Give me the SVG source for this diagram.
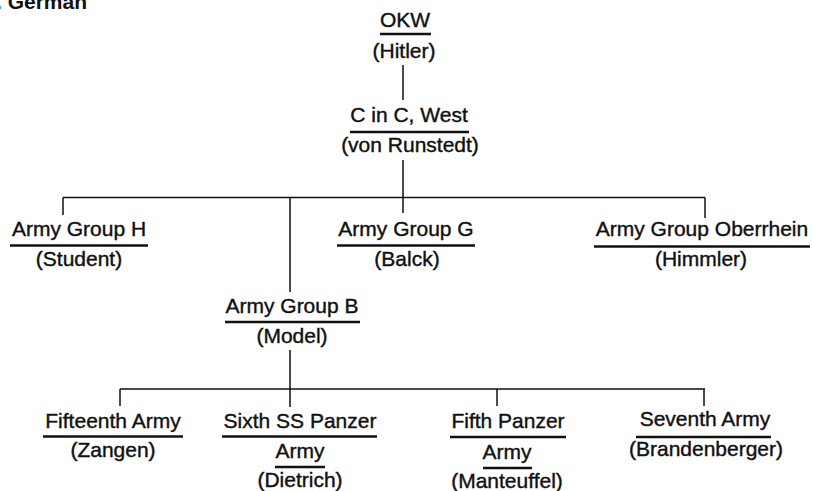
<svg xmlns="http://www.w3.org/2000/svg" width="813" height="491" viewBox="0 0 813 491">
<style>
text{font-family:"Liberation Sans",Arial,sans-serif;font-size:21px;fill:#111;stroke:#111;stroke-width:0.4;text-anchor:middle}
.t{font-weight:bold;text-anchor:start;stroke:none}
.u{stroke:#111;stroke-width:2.5;fill:none}
.c{stroke:#111;stroke-width:1.5;fill:none}
</style>
<rect width="813" height="491" fill="#fff"/>
<text class="t" x="-4" y="9">. German</text>
<g id="connectors">
<path class="c" d="M403,65V100M403,160V213M63,197.5H705M63,197.5V215M290,197.5V292M705,197.5V218M290,350V407M120,389H705M120,389V406M497,389V406M704,389V406"/>
</g>
<g id="okw"><text x="405" y="27">OKW</text><line class="u" x1="380" y1="34" x2="431" y2="34"/><text x="404" y="58">(Hitler)</text></g>
<g id="cinc"><text x="409" y="122">C in C, West</text><line class="u" x1="350" y1="132" x2="469" y2="132"/><text x="410" y="152">(von Runstedt)</text></g>
<g id="agH"><text x="79" y="236">Army Group H</text><line class="u" x1="10" y1="245.5" x2="148" y2="245.5"/><text x="79" y="266">(Student)</text></g>
<g id="agG"><text x="406" y="236">Army Group G</text><line class="u" x1="337" y1="245.5" x2="475" y2="245.5"/><text x="407" y="266">(Balck)</text></g>
<g id="agO"><text x="702" y="236">Army Group Oberrhein</text><line class="u" x1="594" y1="246.5" x2="810" y2="246.5"/><text x="701" y="266">(Himmler)</text></g>
<g id="agB"><text x="292" y="313">Army Group B</text><line class="u" x1="225" y1="322" x2="360" y2="322"/><text x="292" y="343">(Model)</text></g>
<g id="a15"><text x="113" y="428">Fifteenth Army</text><line class="u" x1="43" y1="436.5" x2="183" y2="436.5"/><text x="113" y="457">(Zangen)</text></g>
<g id="a6"><text x="300" y="428">Sixth SS Panzer</text><line class="u" x1="222" y1="436.5" x2="377" y2="436.5"/><text x="300" y="458">Army</text><line class="u" x1="275" y1="467" x2="325" y2="467"/><text x="300" y="487">(Dietrich)</text></g>
<g id="a5"><text x="508" y="428">Fifth Panzer</text><line class="u" x1="450" y1="437" x2="566" y2="437"/><text x="507" y="459">Army</text><line class="u" x1="483" y1="468" x2="532" y2="468"/><text x="507" y="488">(Manteuffel)</text></g>
<g id="a7"><text x="705" y="426">Seventh Army</text><line class="u" x1="636" y1="437" x2="771" y2="437"/><text x="706" y="456">(Brandenberger)</text></g>
</svg>
